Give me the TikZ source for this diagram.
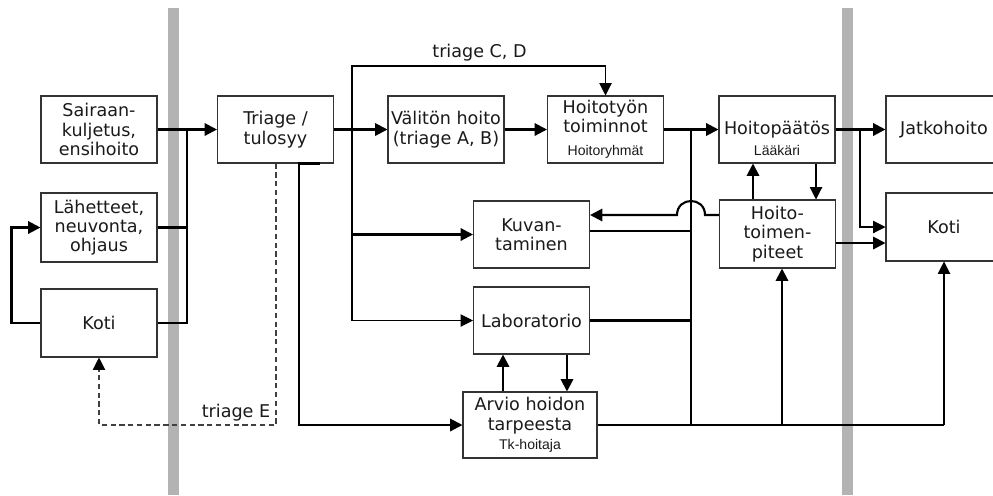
\documentclass[tikz,border=0pt]{standalone}
\usepackage{fontspec}
\setmainfont{DejaVu Sans}
\newfontfamily\notefont{Liberation Sans}
\usepackage{tikz}
\usetikzlibrary{arrows.meta}
\definecolor{lanegray}{HTML}{B3B3B3}
\definecolor{boxline}{HTML}{333333}
\definecolor{textmain}{HTML}{1A1A1A}
\tikzstyle{box} = [draw=boxline, line width=0.6pt, minimum width=2.32cm, minimum height=1.34cm, align=center, inner sep=0pt]
\tikzstyle{arrow} = [line width=1.2pt, -{Triangle[length=7pt,width=7pt]}]
\tikzstyle{thinarrow} = [line width=0.6pt, -{Triangle[length=7pt,width=7pt]}]
\tikzstyle{wire} = [line width=1.2pt]
\tikzstyle{thinwire} = [line width=0.6pt]
\tikzstyle{dasharrow} = [line width=0.6pt, draw=black!75, dash pattern=on 3pt off 2pt, -{Triangle[length=7pt,width=7pt,color=black]}]
\tikzstyle{note} = [font=\notefont\fontsize{8}{9}\selectfont]

\begin{document}
\begin{tikzpicture}[x=0.02cm, y=-0.02cm, every node/.style={text=textmain, font=\fontsize{10}{11}\selectfont}]
    \clip (0,0) rectangle (993,495);
    % lanes
    \fill[lanegray] (168,8) rectangle (179,495);
    \fill[lanegray] (842,8) rectangle (853,495);

    \node[box] (sairaan) at (99,129.5) {Sairaan-\\kuljetus,\\ensihoito};
    \node[box, minimum height=1.38cm] (lahetteet) at (99,227.5) {Lähetteet,\\neuvonta,\\ohjaus};
    \node[box, minimum height=1.36cm] (kotiL) at (99,323) {Koti};
    \node[box] (triage) at (275.5,129.5) {Triage /\\tulosyy};
    \node[box] (valiton) at (446,129.5) {Välitön hoito\\(triage A, B)};
    \node[box] (hoitotyo) at (605.5,129.5) {Hoitotyön\\toiminnot\\[2pt]{\notefont\fontsize{8}{9}\selectfont Hoitoryhmät}};
    \node[box] (kuva) at (531.5,234.5) {Kuvan-\\taminen};
    \node[box] (lab) at (531.5,320.5) {Laboratorio};
    \node[box, minimum width=2.68cm, minimum height=1.32cm] (arvio) at (530,425) {Arvio hoidon\\tarpeesta\\{\notefont\fontsize{8}{9}\selectfont Tk-hoitaja}};
    \node[box] (hpaatos) at (777,129.5) {Hoitopäätös};
    \node[note, above=1pt] (laakari) at (hpaatos.south) {Lääkäri};
    \node[box, minimum height=1.36cm] (htoim) at (777.5,234) {Hoito-\\toimen-\\piteet};
    \node[box] (jatko) at (944,129.5) {Jatkohoito};
    \node[box, minimum height=1.36cm] (kotiR) at (944,227) {Koti};

    \node (lblcd) at (479.5,53) {triage C, D};
    \node (lble) at (236,413) {triage E};

    % tulo
    \coordinate (busL) at (187,129.5);
    \draw[arrow] (sairaan.east) -- (triage.west);
    \draw[wire] (lahetteet.east) -- (lahetteet.east -| busL);
    \draw[wire] (kotiL.east) -| (busL);
    \draw[arrow] (kotiL.west) -- ++(-29,0) |- (lahetteet.west);
    \draw[dasharrow] (triage.south -| 276,0) -- (276,425) -| (kotiL.south);

    % triage
    \coordinate (splitT) at (352,129.5);
    \draw[arrow] (triage.east) -- (valiton.west);
    \draw[thinarrow] (splitT |- lab.west) -- ++(0,-254.5) -| (hoitotyo.north);
    \draw[thinarrow] (splitT |- lab.west) -- (lab.west);
    \draw[arrow] (splitT |- kuva.west) -- (kuva.west);
    \draw[arrow] (triage.south -| 320,0) -| (299,425) -- (arvio.west);
    \draw[arrow] (valiton.east) -- (hoitotyo.west);
    \draw[arrow] (hoitotyo.east) -- (hpaatos.west);

    % tutkimukset
    \coordinate (busR) at (691,129.5);
    \draw[wire] (busR) -- (busR |- arvio.east);
    \draw[wire] (kuva.east |- 0,231) -- (busR |- 0,231);
    \draw[wire] (lab.east) -- (lab.east -| busR);
    \draw[arrow] (htoim.west |- 0,215) -- (705,215) .. controls (705,196.3) and (677,196.3) .. (677,215) -- (kuva.east |- 0,215);
    \draw[arrow] (arvio.north -| 503,0) -- (lab.south -| 503,0);
    \draw[arrow] (lab.south -| 567,0) -- (arvio.north -| 567,0);

    % jatko
    \draw[wire] (arvio.east) -- (arvio.east -| kotiR.south);
    \draw[thinarrow] (arvio.east -| kotiR.south) -- (kotiR.south);
    \draw[arrow] (arvio.east -| 782,0) -- (htoim.south -| 782,0);
    \draw[arrow] (htoim.north -| 753,0) -- (hpaatos.south -| 753,0);
    \draw[thinarrow] (hpaatos.south -| 816,0) -- (htoim.north -| 816,0);
    \draw[arrow] (hpaatos.east) -- (jatko.west);
    \draw[thinarrow] (hpaatos.east -| 860,0) |- (kotiR.west);
    \draw[arrow] (htoim.east |- 0,243) -- (kotiR.west |- 0,243);
\end{tikzpicture}
\end{document}
